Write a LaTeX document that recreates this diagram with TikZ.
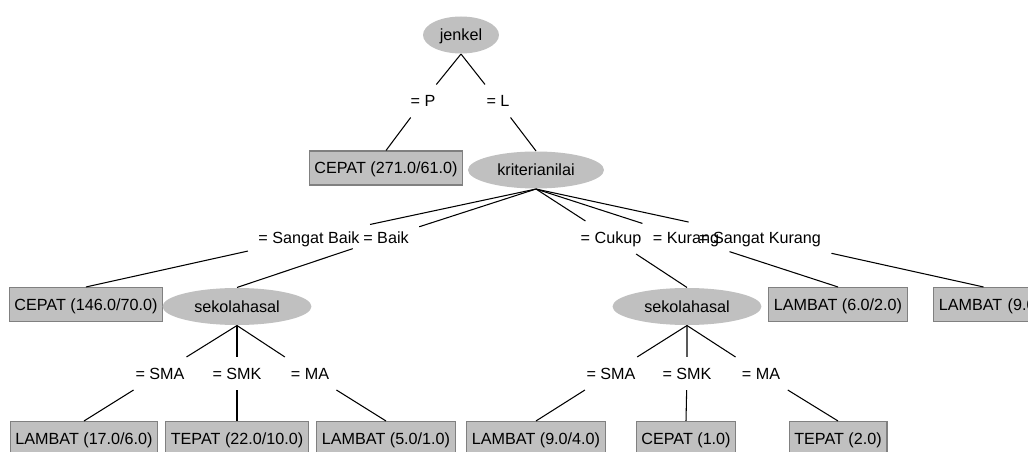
\documentclass[tikz,border=0pt]{standalone}
\usepackage{fontspec}
\setmainfont{Liberation Sans}
\usetikzlibrary{shapes.geometric}
\definecolor{nodeFill}{RGB}{192,192,192}
\definecolor{nodeLine}{RGB}{128,128,128}

\begin{document}
\begin{tikzpicture}[x=0.02cm, y=-0.02cm, line width=0.6pt, font=\fontsize{9.2}{11}\selectfont, attrStyle/.style={ellipse, fill=nodeFill, inner sep=0pt, minimum height=0.74cm, text height=6.6pt, text depth=0pt}, leafStyle/.style={rectangle, fill=nodeFill, draw=nodeLine, inner xsep=3pt, inner ysep=0pt, minimum height=0.68cm, text height=6.6pt, text depth=0pt}, edgeStyle/.style={rectangle, inner xsep=5.7pt, inner ysep=5.8pt, text height=6.6pt, text depth=0pt}]
                    \fill[white] (0, 0) rectangle (1028, 452);
                    \useasboundingbox (0, 0) rectangle (1028, 452);
                    \clip (0, 0) rectangle (1028, 452);

                    \node[attrStyle, minimum width=1.52cm] (root) at (461, 35) {jenkel};

                    \node[leafStyle] (11) at (386, 168) {CEPAT (271.0/61.0)};
                    \node[attrStyle, minimum width=2.72cm] (12) at (536, 170) {kriterianilai};

                    \node[leafStyle] (21) at ( 86, 304.5) {CEPAT (146.0/70.0)};
                    \node[attrStyle, minimum width=2.98cm] (22) at (237, 306.5) {sekolahasal};
                    \node[attrStyle, minimum width=2.98cm] (23) at (687, 306.5) {sekolahasal};
                    \node[leafStyle] (24) at (838, 304.5) {LAMBAT (6.0/2.0)};
                    \node[leafStyle, anchor=west, text width=1.79cm, align=left] (25) at (933, 304.5) {\mbox{LAMBAT (9.0}};

                    \node[leafStyle] (31) at ( 84, 438.5) {LAMBAT (17.0/6.0)};
                    \node[leafStyle] (32) at (237, 438.5) {TEPAT (22.0/10.0)};
                    \node[leafStyle] (33) at (386, 438.5) {LAMBAT (5.0/1.0)};
                    \node[leafStyle] (34) at (536, 438.5) {LAMBAT (9.0/4.0)};
                    \node[leafStyle] (35) at (686, 438.5) {CEPAT (1.0)};
                    \node[leafStyle] (36) at (838, 438.5) {TEPAT (2.0)};

                    % branch labels
                    \node[edgeStyle] (e11) at (423, 101) {= P};
                    \node[edgeStyle] (e12) at (498, 101) {= L};

                    \node[edgeStyle] (e21) at (309, 237.5) {= Sangat Baik};
                    \node[edgeStyle] (e22) at (386, 237.5) {= Baik};
                    \node[edgeStyle] (e23) at (611, 237.5) {= Cukup};
                    \node[edgeStyle] (e24) at (686, 237.5) {= Kurang};
                    \node[edgeStyle] (e25) at (760, 237.5) {= Sangat Kurang};

                    \node[edgeStyle] (e31) at (160, 373.5) {= SMA};
                    \node[edgeStyle] (e32) at (237, 373.5) {= SMK};
                    \node[edgeStyle] (e33) at (310, 373.5) {= MA};
                    \node[edgeStyle] (e34) at (611, 373.5) {= SMA};
                    \node[edgeStyle] (e35) at (687, 373.5) {= SMK};
                    \node[edgeStyle] (e36) at (761, 373.5) {= MA};

                    \draw (root.south) -- (e11) -- (11.north);
                    \draw (root.south) -- (e12) -- (12.north);

                    \draw (12.south) -- (e21) -- (21.north);
                    \draw (12.south) -- (e22) -- (22.north);
                    \draw (12.south) -- (e23) -- (23.north);
                    \draw (12.south) -- (e24) -- (24.north);
                    \draw (12.south) -- (e25) -- (25.north);

                    \draw (22.south) -- (e31) -- (31.north);
                    \draw (22.south) -- (e32) -- (32.north);
                    \draw (22.south) -- (e33) -- (33.north);
                    \draw (23.south) -- (e34) -- (34.north);
                    \draw (23.south) -- (e35) -- (35.north);
                    \draw (23.south) -- (e36) -- (36.north);
                \end{tikzpicture}
\end{document}
